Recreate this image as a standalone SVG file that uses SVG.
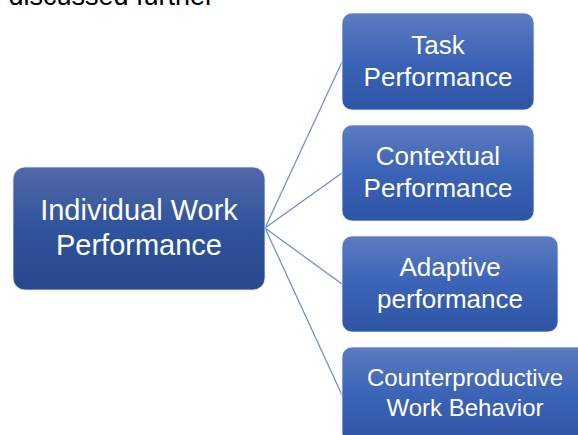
<svg xmlns="http://www.w3.org/2000/svg" width="578" height="435" viewBox="0 0 578 435">
<style>
  .lbl { font-family: "Liberation Sans", Arial, sans-serif; fill: #ffffff; text-anchor: middle; }
  .conn { stroke: #6A89D2; stroke-width: 1.2; fill: none; }
  .box { stroke: #E8EEF8; stroke-width: 0.8; }
</style>
<defs>
  <linearGradient id="gMain" x1="0" y1="0" x2="0" y2="1">
    <stop offset="0" stop-color="#5269A8"/>
    <stop offset="0.5" stop-color="#2E539C"/>
    <stop offset="1" stop-color="#29488E"/>
  </linearGradient>
  <linearGradient id="gChild" x1="0" y1="0" x2="0" y2="1">
    <stop offset="0" stop-color="#5B7CC0"/>
    <stop offset="0.5" stop-color="#3B63B6"/>
    <stop offset="1" stop-color="#2E54A4"/>
  </linearGradient>
</defs>
<rect width="578" height="435" fill="#ffffff"/>
<text x="214" y="5" font-family="Liberation Sans, Arial, sans-serif" font-size="27" fill="#000000" text-anchor="end">discussed further</text>
<g id="connectors">
  <line class="conn" x1="265" y1="228" x2="342" y2="62"/>
  <line class="conn" x1="265" y1="228" x2="342" y2="173"/>
  <line class="conn" x1="265" y1="228" x2="342" y2="284"/>
  <line class="conn" x1="265" y1="228" x2="342" y2="395"/>
</g>
<g id="node-main">
  <rect class="box" x="13" y="167" width="252" height="123" rx="12" fill="url(#gMain)"/>
  <text class="lbl" x="139" y="220" font-size="29">Individual Work</text>
  <text class="lbl" x="139" y="255" font-size="29">Performance</text>
</g>
<g id="node-task">
  <rect class="box" x="342" y="13" width="192" height="97" rx="10" fill="url(#gChild)"/>
  <text class="lbl" x="438" y="54" font-size="26">Task</text>
  <text class="lbl" x="438" y="86" font-size="26">Performance</text>
</g>
<g id="node-contextual">
  <rect class="box" x="342" y="125" width="192" height="96" rx="10" fill="url(#gChild)"/>
  <text class="lbl" x="438" y="165" font-size="26">Contextual</text>
  <text class="lbl" x="438" y="197" font-size="26">Performance</text>
</g>
<g id="node-adaptive">
  <rect class="box" x="342" y="236" width="216" height="96" rx="10" fill="url(#gChild)"/>
  <text class="lbl" x="450" y="276" font-size="26">Adaptive</text>
  <text class="lbl" x="450" y="308" font-size="26">performance</text>
</g>
<g id="node-counterproductive">
  <rect class="box" x="342" y="347" width="246" height="96" rx="10" fill="url(#gChild)"/>
  <text class="lbl" x="465" y="386" font-size="24">Counterproductive</text>
  <text class="lbl" x="465" y="416" font-size="24">Work Behavior</text>
</g>
</svg>
